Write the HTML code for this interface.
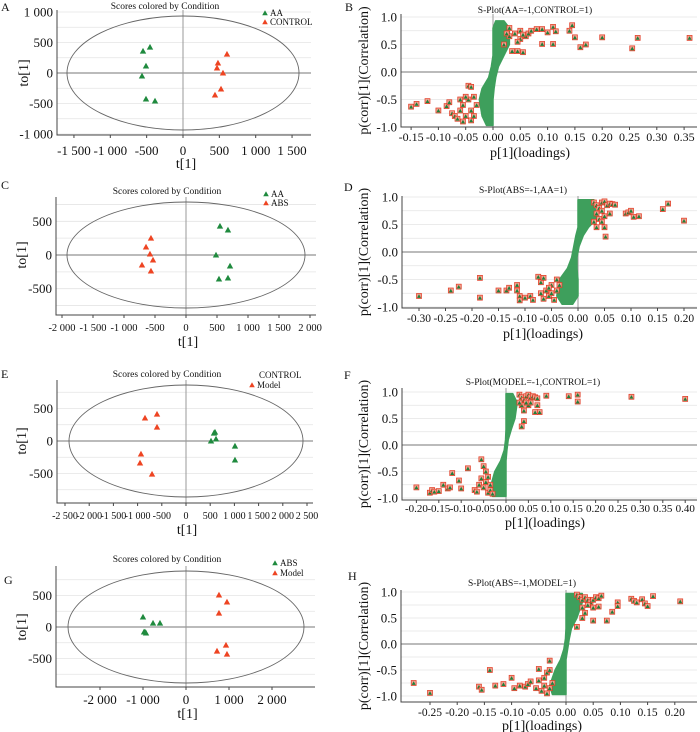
<!DOCTYPE html>
<html><head><meta charset="utf-8">
<style>
html,body{margin:0;padding:0;background:#fff;}
svg{display:block;font-family:"Liberation Serif",serif;}
</style></head>
<body>
<svg id="fig" width="700" height="732" viewBox="0 0 700 732" xmlns="http://www.w3.org/2000/svg"></svg>
<script>
// ---------- DATA ----------
const aAA_t=[-550,-454,-509,-564,-509,-385];
const aAA_to=[360,426,115,-49,-426,-459];
const aCON_t=[605,481,468,550,523,440];
const aCON_to=[311,164,82,0,-262,-360];
const cAA_t=[548,677,484,710,532,677];
const cAA_to=[430,371,0,-163,-356,-341];
const cABS_t=[-565,-645,-581,-532,-710,-565];
const cABS_to=[252,119,15,-74,-148,-237];
const eCON_t=[599,578,517,620,1012,1012];
const eCON_to=[138,123,0,31,-77,-292];
const eMOD_t=[-599,-847,-599,-930,-950,-702];
const eMOD_to=[415,354,215,-200,-338,-508];
const gABS_t=[-1000,-767,-605,-977,-930,-953];
const gABS_to=[159,63,63,-79,-95,-79];
const gMOD_t=[767,953,767,930,721,953];
const gMOD_to=[508,397,222,-286,-381,-429];

const bCoreY=[-0.97,-0.8,-0.5,-0.3,-0.1,0.1,0.3,0.5,0.8,0.93];
const bCoreLo=[-0.012,-0.02,-0.025,-0.02,-0.008,-0.003,0,0,0,0.005];
const bCoreHi=[0,0,0,0.002,0.005,0.01,0.02,0.03,0.03,0.02];
const bOutP=[0.03,0.04,0.05,0.05,0.06,0.065,0.07,0.08,0.09,0.1,0.11,0.115,0.14,0.145,0.15,0.16,0.17,0.2,0.255,0.265,0.36,0.09,0.11,0.055,0.035,0.03,0.045,0.055,0.02,0.045,0.025,
 -0.15,-0.14,-0.12,-0.1,-0.085,-0.08,-0.075,-0.07,-0.06,-0.055,-0.05,-0.045,-0.045,-0.04,-0.035,-0.04,-0.05,-0.065,-0.055,-0.04,-0.06,-0.03,-0.035];
const bOutC=[0.8,0.7,0.75,0.6,0.65,0.7,0.75,0.78,0.78,0.72,0.82,0.74,0.75,0.85,0.63,0.45,0.5,0.63,0.43,0.62,0.62,0.51,0.51,0.36,0.38,0.65,0.55,0.68,0.5,0.38,0.7,
 -0.63,-0.58,-0.53,-0.7,-0.62,-0.55,-0.75,-0.8,-0.7,-0.6,-0.8,-0.5,-0.25,-0.27,-0.45,-0.7,-0.45,-0.85,-0.9,-0.88,-0.5,-0.6,-0.8];
const dCoreY=[-0.95,-0.8,-0.5,-0.3,-0.1,0.1,0.3,0.45,0.6,0.95];
const dCoreLo=[-0.03,-0.04,-0.035,-0.02,-0.012,-0.008,-0.004,0,0,0];
const dCoreHi=[-0.01,0,0,-0.002,-0.002,0.002,0.01,0.02,0.035,0.03];
const dOutP=[0.03,0.035,0.04,0.045,0.05,0.055,0.06,0.065,0.07,0.035,0.04,0.045,0.05,0.035,0.05,0.06,0.09,0.095,0.1,0.105,0.115,0.16,0.17,0.2,0.052,0.03,0.045,
 -0.3,-0.24,-0.225,-0.185,-0.185,-0.15,-0.135,-0.13,-0.115,-0.115,-0.11,-0.11,-0.1,-0.09,-0.085,-0.075,-0.07,-0.065,-0.07,-0.06,-0.055,-0.05,-0.05,-0.045,-0.04,-0.04,-0.035,-0.065,-0.055];
const dOutC=[0.9,0.85,0.8,0.9,0.92,0.85,0.88,0.87,0.86,0.7,0.6,0.55,0.65,0.45,0.45,0.7,0.7,0.72,0.75,0.64,0.65,0.78,0.88,0.57,0.28,0.55,0.75,
 -0.8,-0.7,-0.63,-0.47,-0.83,-0.7,-0.7,-0.65,-0.6,-0.7,-0.8,-0.88,-0.83,-0.8,-0.87,-0.45,-0.55,-0.47,-0.75,-0.7,-0.8,-0.75,-0.6,-0.87,-0.7,-0.5,-0.6,-0.85,-0.65];
const fCoreY=[-0.97,-0.8,-0.5,-0.3,-0.1,0.1,0.3,0.5,0.8,0.97];
const fCoreLo=[-0.03,-0.035,-0.025,-0.012,-0.004,-0.001,0,0,0,0];
const fCoreHi=[0,0,0,0,0.002,0.005,0.012,0.02,0.025,0.015];
const fOutP=[0.03,0.035,0.04,0.045,0.05,0.055,0.06,0.065,0.07,0.07,0.075,0.065,0.05,0.045,0.035,0.04,0.04,0.035,0.09,0.14,0.16,0.16,0.28,0.4,0.055,0.03,
 -0.2,-0.17,-0.165,-0.16,-0.15,-0.14,-0.13,-0.125,-0.12,-0.105,-0.1,-0.085,-0.07,-0.065,-0.06,-0.055,-0.05,-0.055,-0.05,-0.045,-0.04,-0.035,-0.03,-0.04,-0.045,-0.035];
const fOutC=[0.95,0.9,0.85,0.92,0.95,0.9,0.92,0.9,0.88,0.75,0.62,0.62,0.75,0.8,0.75,0.65,0.45,0.35,0.93,0.92,0.95,0.82,0.91,0.87,0.8,0.8,
 -0.8,-0.9,-0.85,-0.88,-0.87,-0.75,-0.82,-0.8,-0.53,-0.67,-0.82,-0.44,-0.85,-0.88,-0.75,-0.27,-0.4,-0.63,-0.8,-0.7,-0.9,-0.85,-0.92,-0.6,-0.5,-0.75];
const hCoreY=[-0.97,-0.8,-0.5,-0.3,-0.1,0.1,0.3,0.5,0.8,0.97];
const hCoreLo=[-0.025,-0.03,-0.02,-0.01,-0.004,-0.001,0,0,0,0];
const hCoreHi=[0,0,0,0,0.003,0.006,0.01,0.02,0.03,0.03];
const hOutP=[0.02,0.025,0.03,0.035,0.04,0.045,0.05,0.055,0.06,0.065,0.04,0.05,0.06,0.035,0.03,0.05,0.02,0.075,0.085,0.095,0.095,0.12,0.125,0.13,0.14,0.145,0.15,0.16,0.21,0.03,
 -0.28,-0.25,-0.16,-0.155,-0.14,-0.13,-0.115,-0.1,-0.095,-0.085,-0.075,-0.07,-0.065,-0.055,-0.05,-0.05,-0.045,-0.04,-0.04,-0.035,-0.03,-0.03,-0.025,-0.03,-0.035];
const hOutC=[0.95,0.9,0.85,0.9,0.85,0.8,0.85,0.9,0.88,0.93,0.75,0.7,0.72,0.6,0.5,0.45,0.33,0.45,0.62,0.8,0.73,0.87,0.83,0.8,0.86,0.78,0.73,0.92,0.82,0.7,
 -0.75,-0.94,-0.82,-0.88,-0.5,-0.8,-0.77,-0.65,-0.85,-0.8,-0.82,-0.77,-0.72,-0.85,-0.48,-0.7,-0.9,-0.65,-0.8,-0.55,-0.32,-0.85,-0.75,-0.5,-0.95];

const aXTicks=[-1500,-1000,-500,0,500,1000,1500];
const aYTicks=[-1000,-500,0,500,1000];
const cXTicks=[-2000,-1500,-1000,-500,0,500,1000,1500,2000];
const eXTicks=[-2500,-2000,-1500,-1000,-500,0,500,1000,1500,2000,2500];
const gXTicks=[-2000,-1000,0,1000,2000];
const sYTicks=[-1.0,-0.5,0.0,0.5,1.0];
const bXTicks=[-0.15,-0.10,-0.05,0,0.05,0.10,0.15,0.20,0.25,0.30,0.35];
const dXTicks=[-0.30,-0.25,-0.20,-0.15,-0.10,-0.05,0,0.05,0.10,0.15,0.20];
const fXTicks=[-0.20,-0.15,-0.10,-0.05,0,0.05,0.10,0.15,0.20,0.25,0.30,0.35,0.40];
const hXTicks=[-0.25,-0.20,-0.15,-0.10,-0.05,0,0.05,0.10,0.15,0.20];

// ---------- DRAWING ----------
const NS="http://www.w3.org/2000/svg";
const svg=document.getElementById('fig');
const GREEN="#1f8a3e", RED="#ee4422", SGREEN="#3e9f5c";
function mk(tag,attrs,parent){const e=document.createElementNS(NS,tag);for(const k in attrs)e.setAttribute(k,attrs[k]);(parent||svg).appendChild(e);return e;}
function txt(x,y,s,size,anchor,parent){const t=mk('text',{x:x,y:y,'font-size':size,'text-anchor':anchor||'middle',fill:'#111'},parent);t.textContent=s;return t;}
function fmtK(v){const a=Math.abs(v);let s;if(a>=1000){s=Math.floor(a/1000)+" "+String(a%1000).padStart(3,'0');}else s=String(a);return (v<0?"-":"")+s;}
function fmtS(v){const s=Math.abs(v).toFixed(2);return (v<-1e-9?"-":"")+s;}
function tri(g,x,y,color,size){const s=size||3.2;return mk('polygon',{points:`${x},${y-s} ${x-s},${y+s*0.8} ${x+s},${y+s*0.8}`,fill:color},g);}

function frame(g,c,gridStep,yMin,yMax,X,Y){
  for(let v=yMin;v<=yMax+1e-9;v+=gridStep){
    const l=mk('line',{x1:c.L,x2:c.R,y1:Y(v),y2:Y(v),stroke:'#e4e4e4','stroke-width':0.8},g);
    
    
  }
  const zh=mk('line',{x1:c.L,x2:c.R,y1:Y(0),y2:Y(0),stroke:'#777','stroke-width':1},g);
  
  
  const zv=mk('line',{x1:X(0),x2:X(0),y1:c.T,y2:c.B,stroke:'#999','stroke-width':1},g);
  
  
  const ax=mk('path',{d:`M${c.L},${c.T} L${c.L},${c.B} L${c.R},${c.B}`,fill:'none',stroke:'#444','stroke-width':1},g);
  
  
}

function scorePanel(c){
  const g=mk('g',{});
  
  
  const X=v=>c.x0+v*c.xs, Y=v=>c.y0-v*c.ys;
  frame(g,c,c.grid,c.gmin,c.gmax,X,Y);
  const el=mk('ellipse',{cx:X(0),cy:Y(0),rx:c.rx,ry:c.ry,fill:'none',stroke:'#666','stroke-width':0.9},g);
  
  
  c.xt.forEach(v=>{mk('line',{x1:X(v),x2:X(v),y1:c.B,y2:c.B+3,stroke:'#444'},g);
    const t=txt(X(v),c.xtY,fmtK(v),c.xtSize,'middle',g);
    
    });
  c.yt.forEach(v=>{
    const t=txt(c.L-4,Y(v)+4.5,fmtK(v),13,'end',g);
    
    });
  c.groups.forEach(gr=>{gr.t.forEach((tv,i)=>{
    const p=tri(g,X(tv),Y(gr.to[i]),gr.color);
    
    });});
  const ti=txt(c.titleX,c.titleY,'Scores colored by Condition',9.5,'middle',g);
  
  
  const xl=txt((c.L+c.R)/2+2,c.xtitleY,'t[1]',14,'middle',g);
  
  
  const yl=txt(0,0,'to[1]',14,'middle',g);
  yl.setAttribute('transform',`translate(${c.ytX},${Y(0)}) rotate(-90)`);
  
  
  c.legend.forEach((lg,i)=>{
    if(lg.tri){const p=tri(g,lg.x,lg.y,lg.color,2.8);
      
      }
    const t=txt(lg.x+5,lg.y+3,lg.label,9,'start',g);
    
    
  });
  const L=txt(c.letter[1],c.letter[2],c.letter[0],12,'start',g);
  
  
}

function sPanel(c){
  const g=mk('g',{});
  
  
  const X=v=>c.x0+v*c.xs, Y=v=>c.y0-v*c.ys;
  frame(g,c,0.25,-1,1,X,Y);
  let pts=[];
  c.coreY.forEach((y,i)=>pts.push(X(c.coreLo[i])+','+Y(y)));
  for(let i=c.coreY.length-1;i>=0;i--)pts.push(X(c.coreHi[i])+','+Y(c.coreY[i]));
  const core=mk('polygon',{points:pts.join(' '),fill:SGREEN,stroke:SGREEN,'stroke-width':1.5,'stroke-linejoin':'round'},g);
  
  
  c.outP.forEach((p,i)=>{
    const x=X(p),y=Y(c.outC[i]);
    const r=mk('rect',{x:x-2.5,y:y-2.5,width:5,height:5,fill:'#f2a090',stroke:'#e03a22','stroke-width':0.7},g);
    
    
    const t=tri(g,x,y+0.3,'#1f7f3a',2);
    
    
  });
  c.xt.forEach(v=>{mk('line',{x1:X(v),x2:X(v),y1:c.B,y2:c.B+3,stroke:'#444'},g);
    const t=txt(X(v),c.xtY,fmtS(v),c.xtSize,'middle',g);
    
    });
  sYTicks.forEach(v=>{
    const t=txt(c.L-4,Y(v)+4.5,v.toFixed(1),13,'end',g);
    
    });
  const ti=txt(c.titleX,c.titleY,c.title,9.5,'middle',g);
  
  
  const xl=txt(c.xtitleX,c.xtitleY,'p[1](loadings)',14,'middle',g);
  
  
  const yl=txt(0,0,'p(corr)[1](Correlation)',14,'middle',g);
  yl.setAttribute('transform',`translate(${c.ytX},${(c.T+c.B)/2}) rotate(-90)`);
  
  
  const L=txt(c.letter[1],c.letter[2],c.letter[0],12,'start',g);
  
  
}

scorePanel({id:'a',L:57,R:311,T:10,B:135,x0:183,xs:0.0727,y0:73,ys:0.061,rx:116,ry:57,grid:250,gmin:-1000,gmax:1000,
  xt:aXTicks,yt:aYTicks,xtY:155,xtSize:13,xtitleY:168,ytX:28,titleX:165,titleY:9,letter:['A',1,11],
  groups:[{name:'AA',t:aAA_t,to:aAA_to,color:GREEN},{name:'CONTROL',t:aCON_t,to:aCON_to,color:RED}],
  legend:[{x:265,y:13,color:GREEN,label:'AA',tri:1},{x:265,y:22,color:RED,label:'CONTROL',tri:1}]});
scorePanel({id:'c',L:56,R:316,T:197,B:315,x0:186,xs:0.062,y0:255,ys:0.0674,rx:119,ry:53,grid:250,gmin:-750,gmax:750,
  xt:cXTicks,yt:[-500,0,500],xtY:331,xtSize:10.5,xtitleY:346,ytX:26,titleX:167,titleY:194,letter:['C',1,189],
  groups:[{name:'AA',t:cAA_t,to:cAA_to,color:GREEN},{name:'ABS',t:cABS_t,to:cABS_to,color:RED}],
  legend:[{x:266,y:194,color:GREEN,label:'AA',tri:1},{x:266,y:203,color:RED,label:'ABS',tri:1}]});
scorePanel({id:'e',L:57,R:313,T:380,B:503,x0:186,xs:0.0484,y0:441,ys:0.065,rx:117,ry:56,grid:250,gmin:-750,gmax:750,
  xt:eXTicks,yt:[-500,0,500],xtY:519,xtSize:10,xtitleY:534,ytX:26,titleX:167,titleY:377,letter:['E',1,378],
  groups:[{name:'CONTROL',t:eCON_t,to:eCON_to,color:GREEN},{name:'Model',t:eMOD_t,to:eMOD_to,color:RED}],
  legend:[{x:254,y:375,color:GREEN,label:'CONTROL',tri:0},{x:252,y:385,color:RED,label:'Model',tri:1}]});
scorePanel({id:'g',L:56,R:315,T:566,B:687,x0:186,xs:0.043,y0:627,ys:0.063,rx:118,ry:56,grid:250,gmin:-750,gmax:750,
  xt:gXTicks,yt:[-500,0,500],xtY:704,xtSize:13,xtitleY:718,ytX:26,titleX:167,titleY:562,letter:['G',4,584],
  groups:[{name:'ABS',t:gABS_t,to:gABS_to,color:GREEN},{name:'Model',t:gMOD_t,to:gMOD_to,color:RED}],
  legend:[{x:275,y:563,color:GREEN,label:'ABS',tri:1},{x:275,y:573,color:RED,label:'Model',tri:1}]});

sPanel({id:'b',L:401,R:697,T:14,B:127,x0:493,xs:546,y0:72,ys:55,xt:bXTicks,xtY:141,xtSize:12,xtitleX:530,xtitleY:157,ytX:368,
  title:'S-Plot(AA=-1,CONTROL=1)',titleX:535,titleY:13,letter:['B',345,11],coreY:bCoreY,coreLo:bCoreLo,coreHi:bCoreHi,outP:bOutP,outC:bOutC});
sPanel({id:'d',L:402,R:697,T:196,B:308,x0:578,xs:530,y0:252,ys:55,xt:dXTicks,xtY:322,xtSize:11.5,xtitleX:543,xtitleY:338,ytX:368,
  title:'S-Plot(ABS=-1,AA=1)',titleX:523,titleY:193,letter:['D',344,191],coreY:dCoreY,coreLo:dCoreLo,coreHi:dCoreHi,outP:dOutP,outC:dOutC});
sPanel({id:'f',L:402,R:697,T:388,B:500,x0:506,xs:448,y0:445,ys:53,xt:fXTicks,xtY:512,xtSize:11,xtitleX:545,xtitleY:527,ytX:368,
  title:'S-Plot(MODEL=-1,CONTROL=1)',titleX:533,titleY:385,letter:['F',344,379],coreY:fCoreY,coreLo:fCoreLo,coreHi:fCoreHi,outP:fOutP,outC:fOutC});
sPanel({id:'h',L:401,R:697,T:590,B:702,x0:566,xs:544,y0:644,ys:52,xt:hXTicks,xtY:716,xtSize:11.5,xtitleX:542,xtitleY:730,ytX:368,
  title:'S-Plot(ABS=-1,MODEL=1)',titleX:522,titleY:586,letter:['H',348,580],coreY:hCoreY,coreLo:hCoreLo,coreHi:hCoreHi,outP:hOutP,outC:hOutC});
</script>
</body></html>
